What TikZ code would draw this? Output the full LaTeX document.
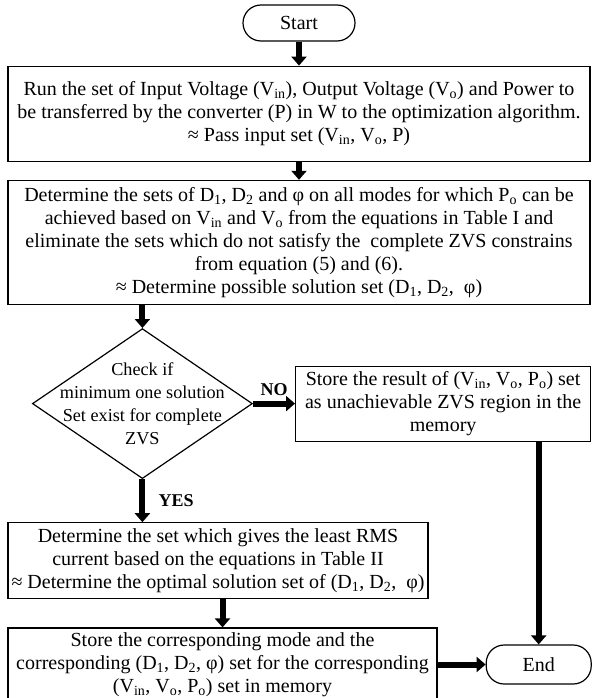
\documentclass[tikz,border=0pt]{standalone}
\usepackage{fontspec}
\setmainfont{Liberation Serif}
\usetikzlibrary{shapes.geometric, arrows.meta, positioning, calc}

\begin{document}
\begin{tikzpicture}[
    x=1pt, y=1pt,
    % Node styles
    terminal/.style={
        rectangle,
        rounded corners=18pt,
        draw,
        line width=1.2pt,
        inner sep=0pt,
        font=\fontsize{20}{23}\selectfont
    },
    process/.style={
        rectangle,
        draw,
        line width=1.2pt,
        inner sep=1pt,
        align=center,
        font=\fontsize{20}{23}\selectfont
    },
    decision/.style={
        diamond,
        draw,
        line width=1.2pt,
        minimum width=220pt,
        minimum height=150pt,
        inner sep=0pt
    },
    decisiontext/.style={
        align=center,
        inner sep=0pt,
        font=\fontsize{18.2}{23}\selectfont
    },
    answer/.style={
        font=\fontsize{18}{20}\selectfont\bfseries
    },
    arrow/.style={
        line width=6pt,
        -{Triangle[length=9pt,width=15pt]}
    }
]
\useasboundingbox (0,0) rectangle (593,-698);

% Main column
\node[terminal, minimum width=112pt, minimum height=36pt] (start) at (299,-23) {Start};
\node[process, minimum width=582pt, minimum height=95pt, below=24pt of start] (input) {Run the set of Input Voltage (V\textsubscript{in}), Output Voltage (V\textsubscript{o}) and Power to\\be transferred by the converter (P) in W to the optimization algorithm.\\≈ Pass input set (V\textsubscript{in}, V\textsubscript{o}, P)};
\node[process, minimum width=582pt, minimum height=124pt, below=18pt of input] (search) {Determine the sets of D\textsubscript{1}, D\textsubscript{2} and φ on all modes for which P\textsubscript{o} can be\\achieved based on V\textsubscript{in} and V\textsubscript{o} from the equations in Table I and\\eliminate the sets which do not satisfy the\ \ complete ZVS constrains\\from equation (5) and (6).\\≈ Determine possible solution set (D\textsubscript{1}, D\textsubscript{2},\ \ φ)};

% Decision and its branches
\node[decision, below=23pt of search.south west, xshift=135pt] (check) {};
\node[decisiontext] (checktext) at (check.center) {Check if\\minimum one solution\\Set exist for complete\\ZVS};
\node[process, minimum width=295pt, minimum height=75pt, right=42pt of check] (unach) {Store the result of (V\textsubscript{in}, V\textsubscript{o}, P\textsubscript{o}) set\\as unachievable ZVS region in the\\memory};

\coordinate (optnw) at (check.south -| search.west);
\node[process, minimum width=420pt, minimum height=76pt, anchor=north west] (optimal) at ([yshift=-43pt]optnw) {Determine the set which gives the least RMS\\current based on the equations in Table II\\≈ Determine the optimal solution set of (D\textsubscript{1}, D\textsubscript{2},\ \ φ)};
\node[process, minimum width=429pt, minimum height=73pt, anchor=north west] (store) at ([yshift=-28pt]optimal.south west) {Store the corresponding mode and the\\corresponding (D\textsubscript{1}, D\textsubscript{2}, φ) set for the corresponding\\(V\textsubscript{in}, V\textsubscript{o}, P\textsubscript{o}) set in memory};
\node[terminal, minimum width=105pt, minimum height=39pt, right=48pt of store] (stop) {End};

% Arrows
\draw[arrow] (start) -- (input);
\draw[arrow] (input) -- (search);
\draw[arrow] (check.north |- search.south) -- (check.north);
\draw[arrow] (check.east) -- (unach) node[answer, midway, above=2pt] {NO};
\draw[arrow] (check.south) -- (check.south |- optimal.north) node[answer, midway, right=10pt] {YES};
\draw[arrow] (store.north |- optimal.south) -- (store.north);
\draw[arrow] (store) -- (stop);
\draw[arrow] (stop.north |- unach.south) -- (stop.north);

\end{tikzpicture}
\end{document}
